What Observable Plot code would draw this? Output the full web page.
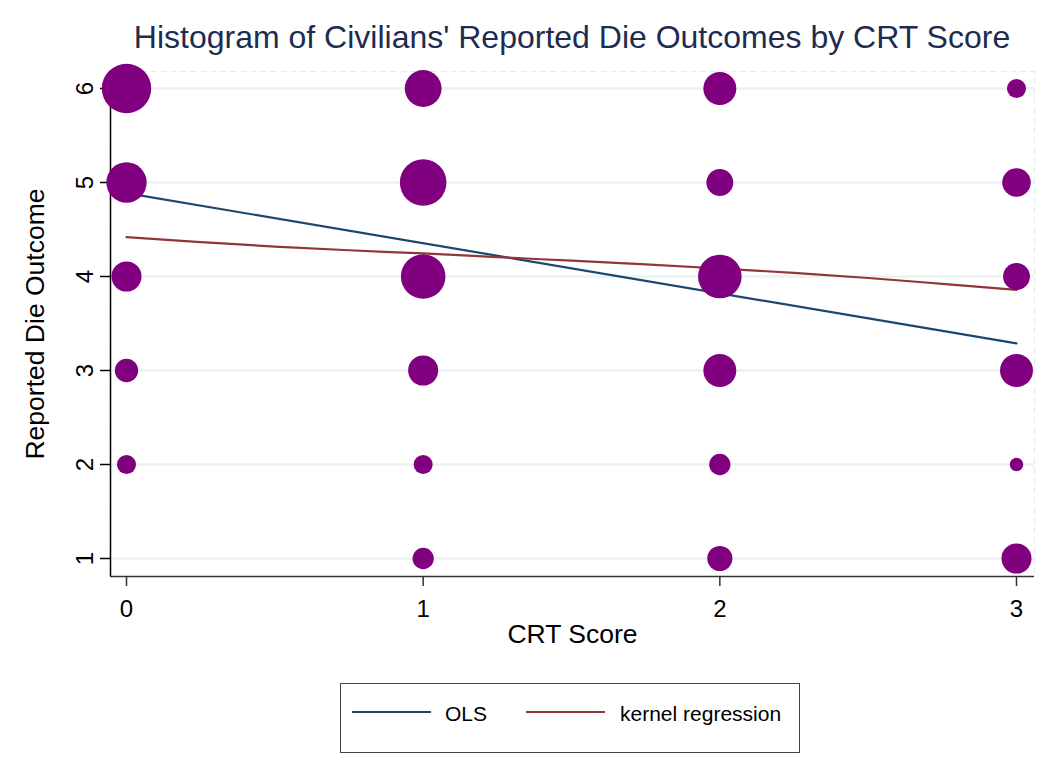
<!DOCTYPE html>
<html>
<head>
<meta charset="utf-8">
<script src="https://cdn.jsdelivr.net/npm/d3@7"></script>
<script src="https://cdn.jsdelivr.net/npm/@observablehq/plot@0.6"></script>
<style>
  body { margin: 0; background: #fff; font-family: "Liberation Sans", Arial, sans-serif; }
  #wrap { position: relative; width: 1055px; height: 765px; overflow: hidden; background: #fff; }
  #title { position: absolute; left: 110px; width: 924px; top: 21px; text-align: center;
           font-size: 32px; line-height: 32px; color: #1e2c50; white-space: nowrap; }
  #chart { position: absolute; left: 0; top: 56px; }
  #chart svg { overflow: visible; }
  #legend { position: absolute; left: 340px; top: 683px; width: 460px; height: 70px;
            box-sizing: border-box; border: 1.5px solid #444; background: #fff; }
  .sw { position: absolute; height: 0; border-top: 2.2px solid; }
  .lt { position: absolute; font-size: 21px; line-height: 21px; color: #000; white-space: nowrap; }
</style>
</head>
<body>
<div id="wrap">
  <div id="title"></div>
  <div id="chart"></div>
  <div id="legend"></div>
</div>
<script>
// ---------------- data ----------------
const titleText = "Histogram of Civilians' Reported Die Outcomes by CRT Score";
const xLabel = "CRT Score";
const yLabel = "Reported Die Outcome";
const crtScores = [0, 1, 2, 3];
const dieOutcomes = [1, 2, 3, 4, 5, 6];
// frequency (marker weight) for die outcomes 1..6, per CRT score
const freqCRT0 = [0, 4, 6, 10, 18, 27];
const freqCRT1 = [5, 4, 10, 22, 24, 15];
const freqCRT2 = [7, 5, 12, 21, 8, 12];
const freqCRT3 = [10, 2, 12, 8, 9, 4];
// OLS fit
const olsX = [0, 3];
const olsY = [4.887, 3.288];
// kernel regression
const kernelX = [0, 0.25, 0.5, 0.75, 1, 1.25, 1.5, 1.75, 2, 2.25, 2.5, 2.75, 3];
const kernelY = [4.418, 4.366, 4.318, 4.279, 4.245, 4.206, 4.168, 4.128, 4.085, 4.038, 3.984, 3.922, 3.858];
const xTicks = [0, 1, 2, 3];
const yTicks = [1, 2, 3, 4, 5, 6];
const seriesNames = ["OLS", "kernel regression"];

// ---------------- build tables ----------------
const freqs = [freqCRT0, freqCRT1, freqCRT2, freqCRT3];
const cells = [];
crtScores.forEach((c, i) => dieOutcomes.forEach((d, j) => {
  if (freqs[i][j] > 0) cells.push({crt: c, die: d, n: freqs[i][j]});
}));
const ols = olsX.map((x, i) => ({x, y: olsY[i]}));
const kern = kernelX.map((x, i) => ({x, y: kernelY[i]}));

// ---------------- layout ----------------
const W = 1055, H = 604;
const mL = 110, mR = 21, mT = 15, mB = 84;
const px0 = 126, px3 = 1016;           // pixel of x=0 and x=3
const kx = (px3 - px0) / 3;
const xDom = [-(px0 - mL) / kx, 3 + (W - mR - px3) / kx];
const py6 = 32, py1 = 502;             // pixel of y=6 and y=1 (svg coords)
const ky = (py1 - py6) / 5;
const yDom = [1 - (H - mB - py1) / ky, 6 + (py6 - mT) / ky];

const blue = "#1a476f", red = "#90353b", purple = "#800080";
const maxN = d3.max(cells, d => d.n);
const fmt = d3.format("d");

const plot = Plot.plot({
  width: W, height: H,
  marginLeft: mL, marginRight: mR, marginTop: mT, marginBottom: mB,
  style: {fontFamily: '"Liberation Sans", Arial, sans-serif', background: "transparent", color: "#000"},
  x: {domain: xDom, axis: null},
  y: {domain: yDom, axis: null},
  r: {type: "sqrt", domain: [0, maxN], range: [0, 24.7]},
  marks: [
    Plot.frame({stroke: "#e3ecee", strokeDasharray: "6,4", strokeWidth: 1.2}),
    Plot.ruleY(yTicks, {stroke: "#eaf2f3", strokeWidth: 2.6}),
    Plot.ruleX([xDom[0]], {stroke: "#000", strokeWidth: 1.5}),
    Plot.ruleY([yDom[0]], {stroke: "#333", strokeWidth: 1.5}),
    Plot.axisX(xTicks, {tickSize: 10, tickPadding: 13, fontSize: 24, tickFormat: fmt, stroke: "#333", strokeWidth: 1.5, label: null}),
    Plot.axisY(yTicks, {tickSize: 10, tickFormat: () => "", stroke: "#000", strokeWidth: 1.5, label: null}),
    Plot.text(yTicks, {y: d => d, text: fmt, frameAnchor: "left", dx: -25, rotate: -90,
                       textAnchor: "middle", lineAnchor: "middle", fontSize: 24, fill: "#000"}),
    Plot.text([xLabel], {frameAnchor: "bottom", textAnchor: "middle", lineAnchor: "bottom", dy: 66, fontSize: 26.5, fill: "#000"}),
    Plot.text([yLabel], {frameAnchor: "left", textAnchor: "middle", lineAnchor: "middle", rotate: -90, dx: -75, fontSize: 26.5, fill: "#000"}),
    Plot.line(ols, {x: "x", y: "y", stroke: blue, strokeWidth: 2.2}),
    Plot.line(kern, {x: "x", y: "y", stroke: red, strokeWidth: 2.2, curve: "monotone-x"}),
    Plot.dot(cells, {x: "crt", y: "die", r: "n", fill: purple, stroke: "none"})
  ]
});
document.getElementById("chart").appendChild(plot);
document.getElementById("title").textContent = titleText;

// ---------------- legend ----------------
const legend = document.getElementById("legend");
const legendItems = [
  {name: seriesNames[0], color: blue, left: 11, width: 79, textLeft: 104},
  {name: seriesNames[1], color: red, left: 185, width: 79, textLeft: 279}
];
for (const it of legendItems) {
  const s = document.createElement("div");
  s.className = "sw";
  s.style.left = it.left + "px"; s.style.width = it.width + "px"; s.style.top = "27px";
  s.style.borderTopColor = it.color;
  legend.appendChild(s);
  const t = document.createElement("div");
  t.className = "lt";
  t.style.left = it.textLeft + "px"; t.style.top = "19px";
  t.textContent = it.name;
  legend.appendChild(t);
}
</script>
</body>
</html>
